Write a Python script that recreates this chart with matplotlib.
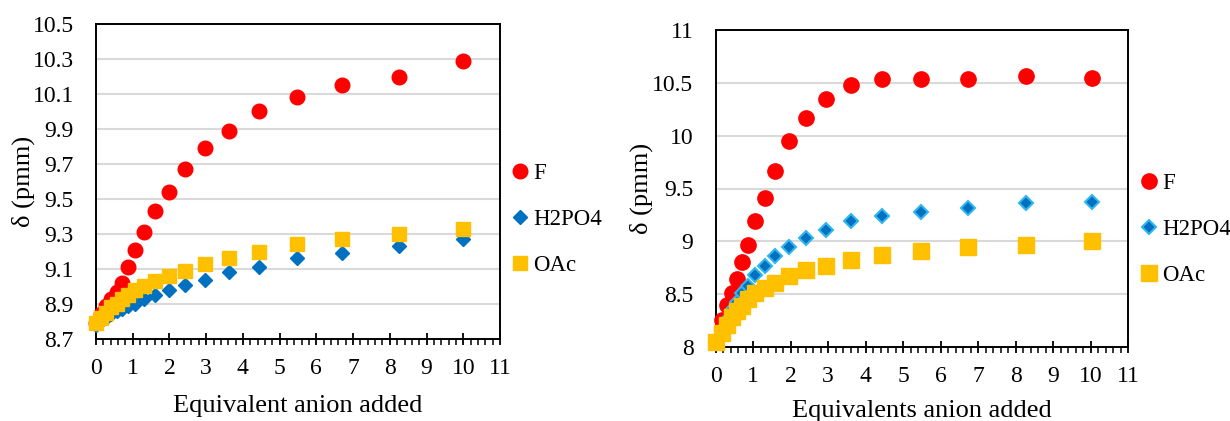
import matplotlib
matplotlib.use("Agg")
import matplotlib.pyplot as plt
from matplotlib.ticker import MultipleLocator, FormatStrFormatter, FuncFormatter

plt.rcParams['font.family'] = ['Liberation Serif', 'DejaVu Serif']

# ---- Titration data: left panel ----
eq_left = [0, 0.14, 0.28, 0.42, 0.56, 0.72, 0.87, 1.06, 1.30, 1.60, 1.98,
           2.42, 2.96, 3.61, 4.43, 5.46, 6.71, 8.26, 10.0]
f_left = [8.79, 8.84, 8.89, 8.93, 8.97, 9.02, 9.11, 9.21, 9.31, 9.43, 9.54,
          9.67, 9.79, 9.89, 10.00, 10.08, 10.15, 10.20, 10.29]
h2po4_left = [8.78, 8.80, 8.82, 8.84, 8.86, 8.87, 8.89, 8.90, 8.93, 8.95, 8.98,
              9.01, 9.04, 9.085, 9.11, 9.16, 9.19, 9.23, 9.27]
oac_left = [8.79, 8.82, 8.85, 8.88, 8.90, 8.93, 8.95, 8.98, 9.005, 9.03, 9.06,
            9.09, 9.13, 9.165, 9.195, 9.24, 9.27, 9.30, 9.33]
yticks_left = [8.7, 8.9, 9.1, 9.3, 9.5, 9.7, 9.9, 10.1, 10.3, 10.5]

# ---- Titration data: right panel ----
eq_right = [0, 0.16, 0.29, 0.44, 0.57, 0.70, 0.86, 1.05, 1.31, 1.59, 1.96,
            2.41, 2.95, 3.62, 4.45, 5.48, 6.72, 8.27, 10.03]
f_right = [8.05, 8.26, 8.40, 8.51, 8.64, 8.80, 8.97, 9.19, 9.41, 9.67, 9.95,
           10.17, 10.35, 10.48, 10.54, 10.54, 10.54, 10.56, 10.55]
h2po4_right = [8.05, 8.16, 8.26, 8.35, 8.43, 8.51, 8.58, 8.68, 8.77, 8.86, 8.95,
               9.03, 9.11, 9.19, 9.24, 9.28, 9.32, 9.36, 9.37]
oac_right = [8.05, 8.13, 8.21, 8.28, 8.34, 8.39, 8.45, 8.51, 8.56, 8.61, 8.67,
             8.73, 8.77, 8.82, 8.87, 8.91, 8.95, 8.97, 9.00]
yticks_right = [8, 8.5, 9, 9.5, 10, 10.5, 11]

labels = ["F", "H2PO4", "OAc"]
RED, BLUE, GOLD = "#ff0000", "#0070c0", "#ffc000"

fig = plt.figure(figsize=(12.3, 4.21), dpi=100)
ax1 = fig.add_axes([96 / 1230, 1 - 339 / 421, 404 / 1230, 315 / 421])
ax2 = fig.add_axes([715.7 / 1230, 1 - 347 / 421, 412.3 / 1230, 317 / 421])


def style_axes(ax, yticks, yfmt, xlabel, ylab_x, xlab_y):
    ax.set_xlim(0, 11)
    ax.set_ylim(yticks[0], yticks[-1])
    ax.xaxis.set_major_locator(MultipleLocator(1))
    ax.xaxis.set_minor_locator(MultipleLocator(0.2))
    ax.set_yticks(yticks)
    ax.yaxis.set_major_formatter(yfmt)
    ax.grid(axis='y', color='#d9d9d9', linewidth=1.5, zorder=0)
    ax.set_axisbelow(True)
    for s in ax.spines.values():
        s.set_color('black')
        s.set_linewidth(1.4)
    ax.tick_params(axis='x', which='major', direction='inout', length=9,
                   width=1.3, labelsize=17, pad=9)
    ax.tick_params(axis='x', which='minor', direction='out', length=4.5,
                   width=1.1)
    ax.tick_params(axis='y', which='both', length=0, labelsize=17, pad=16)
    ax.set_xlabel(xlabel, fontsize=19)
    ax.set_ylabel("δ (pmm)", fontsize=19)
    ax.yaxis.set_label_coords(ylab_x, 0.5)
    ax.xaxis.set_label_coords(0.5, xlab_y)


style_axes(ax1, yticks_left, FormatStrFormatter('%.1f'),
           "Equivalent anion added", -0.151, -0.178)
style_axes(ax2, yticks_right, FuncFormatter(lambda v, p: f"{v:g}"),
           "Equivalents anion added", -0.152, -0.167)

# Left panel series
ax1.plot(eq_left, f_left, 'o', color=RED, ms=10.5, mec=RED, ls='none',
         label=labels[0], clip_on=False, zorder=3)
ax1.plot(eq_left, h2po4_left, 'D', color=BLUE, ms=7.2, mec=BLUE, ls='none',
         label=labels[1], clip_on=False, zorder=4)
ax1.plot(eq_left, oac_left, 's', color=GOLD, ms=10.5, mec=GOLD, ls='none',
         label=labels[2], clip_on=False, zorder=5)

# Right panel series
ax2.plot(eq_right, f_right, 'o', color=RED, ms=11, mec=RED, ls='none',
         label=labels[0], clip_on=False, zorder=3)
ax2.plot(eq_right, h2po4_right, 'D', color=BLUE, ms=7.4, mec='#33b5ef',
         mew=1.5, ls='none', label=labels[1], clip_on=False, zorder=4)
ax2.plot(eq_right, oac_right, 's', color=GOLD, ms=11, mec=GOLD, ls='none',
         label=labels[2], clip_on=False, zorder=5)

for ax, anchor in ((ax1, (1.022, 0.38)), (ax2, (1.024, 0.37))):
    ax.legend(loc='center left', bbox_to_anchor=anchor, frameon=False,
              fontsize=16.5, handlelength=1.0, handletextpad=0.05,
              labelspacing=1.1, borderpad=0, borderaxespad=0,
              markerscale=1.0)

fig.savefig("out.png", dpi=100, facecolor='white')
